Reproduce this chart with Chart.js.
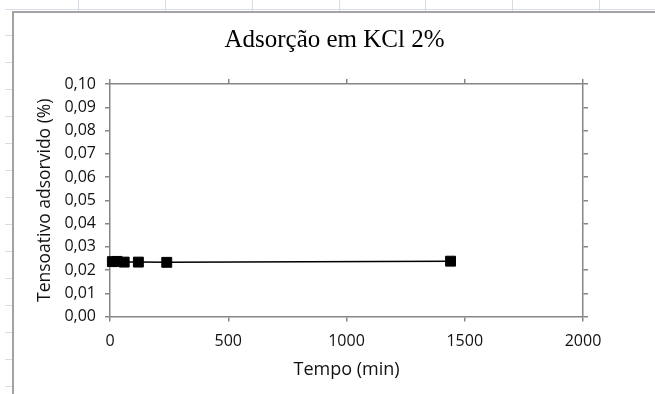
<!DOCTYPE html>
<html>
<head>
<meta charset="utf-8">
<script src="https://cdn.jsdelivr.net/npm/chart.js@4"></script>
<style>
  html, body { margin: 0; padding: 0; background: #fff; }
  body { width: 655px; height: 394px; position: relative; overflow: hidden; }
  .gl { position: absolute; background: #d6dce8; }
  #box { position: absolute; left: 12px; top: 11px; width: 643px; height: 383px;
         border-left: 2px solid #a3a3a3; border-top: 2px solid #a3a3a3; background: #fff; }
  #chart { display: block; }
</style>
</head>
<body>
<div id="box"><canvas id="chart" width="641" height="381"></canvas></div>
<script>
// Dados
const tempos = [10, 30, 60, 120, 240, 1440];            // min
const adsorvido = [0.0236, 0.0237, 0.0234, 0.0234, 0.0233, 0.0238]; // %
const xTicks = [0, 500, 1000, 1500, 2000];
const yTicks = [0, 0.01, 0.02, 0.03, 0.04, 0.05, 0.06, 0.07, 0.08, 0.09, 0.10];

// --- fundo tipo planilha (linhas de grade do Excel) ---
function gridLine(l, t, w, h) {
    const d = document.createElement('div');
    d.className = 'gl';
    d.style.left = l + 'px'; d.style.top = t + 'px';
    d.style.width = w + 'px'; d.style.height = h + 'px';
    document.body.insertBefore(d, document.body.firstChild);
}
gridLine(5, 9, 650, 1);
[78, 165, 252, 339, 425, 512, 599].forEach(x => gridLine(x, 0, 1, 11));
for (let y = 35; y < 394; y += 27) gridLine(5, y, 8, 1);

// --- gráfico ---
const AXIS = '#868686';
const fixTicks = arr => scale => { scale.ticks = arr.map(v => ({ value: v })); };
const virgula = v => v.toFixed(2).replace('.', ',');

new Chart(document.getElementById('chart'), {
    type: 'scatter',
    data: {
        datasets: [{
            data: tempos.map((t, i) => ({ x: t, y: adsorvido[i] })),
            showLine: true,
            borderColor: '#000',
            borderWidth: 1.5,
            backgroundColor: '#000',
            pointStyle: 'rect',
            pointRadius: 7,
            pointBorderWidth: 1,
            pointBorderColor: '#000',
            clip: false
        }]
    },
    options: {
        responsive: false,
        animation: false,
        layout: { padding: 0 },
        plugins: {
            legend: { display: false },
            tooltip: { enabled: false },
            title: {
                display: true,
                text: 'Adsorção em KCl 2%',
                color: '#000',
                font: { family: 'Liberation Serif', size: 25, weight: 'normal' },
                padding: { top: 12, bottom: 24 }
            }
        },
        scales: {
            x: {
                type: 'linear', position: 'bottom', min: 0, max: 2000,
                afterBuildTicks: fixTicks(xTicks),
                afterFit: s => { s.height = 77.5; },
                border: { color: AXIS, width: 1.5 },
                grid: { drawOnChartArea: false, color: AXIS, lineWidth: 1.5, tickLength: 5 },
                ticks: { color: '#111', padding: 10, font: { family: 'Open Sans', size: 16 },
                         callback: v => String(v) },
                title: { display: true, text: 'Tempo (min)', color: '#111',
                         font: { family: 'Open Sans', size: 18 }, padding: { top: 0, bottom: 13 } }
            },
            x2: {
                type: 'linear', position: 'top', min: 0, max: 2000,
                afterBuildTicks: fixTicks(xTicks),
                afterFit: s => { s.height = 5; },
                border: { color: AXIS, width: 1.5 },
                grid: { drawOnChartArea: false, color: AXIS, lineWidth: 1.5, tickLength: 5 },
                ticks: { display: false }
            },
            y: {
                type: 'linear', position: 'left', min: 0, max: 0.10,
                afterBuildTicks: fixTicks(yTicks),
                afterFit: s => { s.width = 96; },
                border: { color: AXIS, width: 1.5 },
                grid: { drawOnChartArea: false, color: AXIS, lineWidth: 1.5, tickLength: 5 },
                ticks: { color: '#111', padding: 9, font: { family: 'Open Sans', size: 16 },
                         callback: v => virgula(v) },
                title: { display: true, text: 'Tensoativo adsorvido (%)', color: '#111',
                         font: { family: 'Open Sans', size: 17.5 }, padding: { top: 21, bottom: 0 } }
            },
            y2: {
                type: 'linear', position: 'right', min: 0, max: 0.10,
                afterBuildTicks: fixTicks(yTicks),
                afterFit: s => { s.width = 72; },
                border: { color: AXIS, width: 1.5 },
                grid: { drawOnChartArea: false, color: AXIS, lineWidth: 1.5, tickLength: 5 },
                ticks: { display: false }
            }
        }
    }
});
</script>
</body>
</html>
